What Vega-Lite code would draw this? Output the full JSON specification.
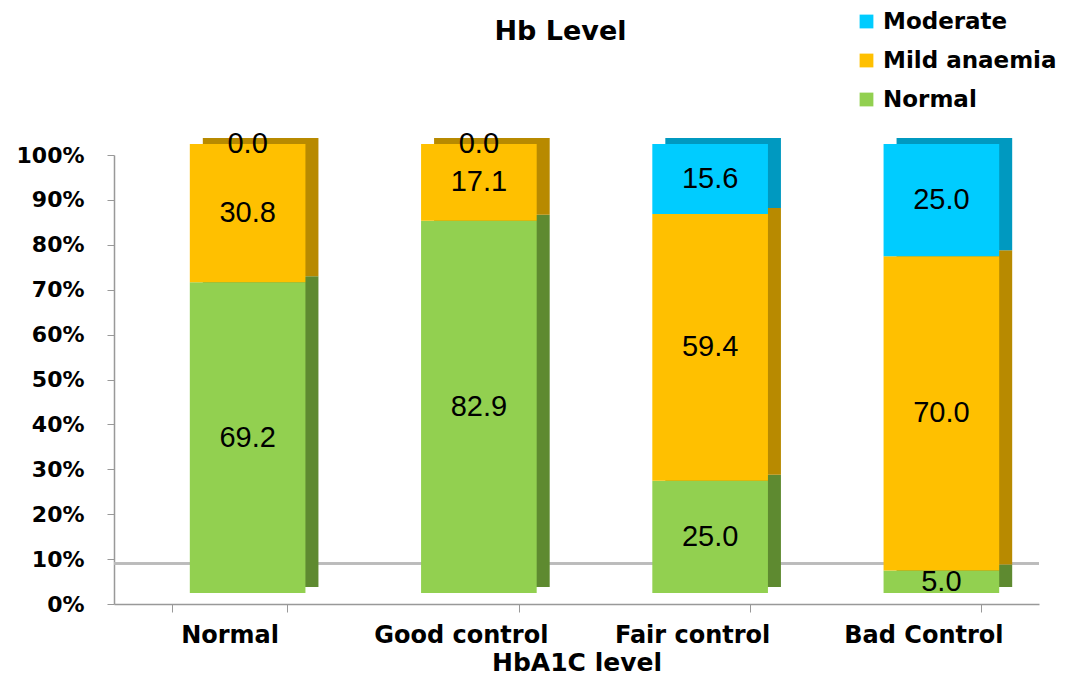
{
  "$schema": "https://vega.github.io/schema/vega-lite/v6.json",
  "width": 925,
  "height": 449,
  "autosize": {"type": "none"},
  "padding": {"left": 114, "top": 155, "right": 31, "bottom": 75},
  "background": "white",
  "config": {"view": {"stroke": null}, "font": "DejaVu Sans"},
  "title": {"text": "Hb Level", "fontSize": 27, "fontWeight": "bold", "font": "DejaVu Sans", "color": "#000000", "anchor": "middle", "frame": "group", "offset": -36, "dx": -16},
  "data": {"values": [
    {"group": "Normal", "hb": "Normal", "ord": 1, "value": 69.2},
    {"group": "Normal", "hb": "Mild anaemia", "ord": 2, "value": 30.8},
    {"group": "Normal", "hb": "Moderate", "ord": 3, "value": 0.0},
    {"group": "Good control", "hb": "Normal", "ord": 1, "value": 82.9},
    {"group": "Good control", "hb": "Mild anaemia", "ord": 2, "value": 17.1},
    {"group": "Good control", "hb": "Moderate", "ord": 3, "value": 0.0},
    {"group": "Fair control", "hb": "Normal", "ord": 1, "value": 25.0},
    {"group": "Fair control", "hb": "Mild anaemia", "ord": 2, "value": 59.4},
    {"group": "Fair control", "hb": "Moderate", "ord": 3, "value": 15.6},
    {"group": "Bad Control", "hb": "Normal", "ord": 1, "value": 5.0},
    {"group": "Bad Control", "hb": "Mild anaemia", "ord": 2, "value": 70.0},
    {"group": "Bad Control", "hb": "Moderate", "ord": 3, "value": 25.0}
  ]},
  "transform": [
    {"stack": "value", "groupby": ["group"], "sort": [{"field": "ord", "order": "ascending"}], "as": ["v0", "v1"]},
    {"calculate": "(datum.v0 + datum.v1) / 2", "as": "mid"}
  ],
  "encoding": {
    "x": {"field": "group", "type": "nominal", "sort": ["Normal", "Good control", "Fair control", "Bad Control"],
      "scale": {"paddingInner": 0.5, "paddingOuter": 0.25},
      "axis": {"title": "HbA1C level", "labelAngle": 0, "labelFontSize": 24, "labelFontWeight": "bold", "labelFont": "DejaVu Sans", "labelColor": "#000000", "labelPadding": 11,
        "titleFontSize": 25, "titleFontWeight": "bold", "titleFont": "DejaVu Sans", "titleColor": "#000000", "titlePadding": 3,
        "domainColor": "#999999", "tickColor": "#999999", "tickBand": "extent", "tickSize": 8, "domainWidth": 1.5}}
  },
  "layer": [
    {
      "mark": {"type": "rule", "color": "#bbbbbb", "strokeWidth": 1.5},
      "encoding": {"y": {"datum": 9, "type": "quantitative"}, "x": null}
    },
    {
      "mark": {"type": "bar", "xOffset": 31, "yOffset": -17, "y2Offset": -17},
      "encoding": {
        "y": {"field": "v0", "type": "quantitative", "scale": {"domain": [0, 100]},
          "axis": {"title": null, "values": [0,10,20,30,40,50,60,70,80,90,100], "labelExpr": "datum.value + '%'", "labelFontSize": 22, "labelFontWeight": "bold", "labelFont": "DejaVu Sans", "labelColor": "#000000", "labelPadding": 23, "grid": false, "domainColor": "#999999", "tickColor": "#999999", "tickSize": 7, "domainWidth": 1.5}},
        "y2": {"field": "v1"},
        "fill": {"field": "hb", "type": "nominal",
          "scale": {"domain": ["Moderate", "Mild anaemia", "Normal"], "range": ["#0099C0", "#B88A00", "#5E8A30"]},
          "legend": null}
      }
    },
    {
      "mark": {"type": "bar", "xOffset": 18, "yOffset": -11, "y2Offset": -11},
      "encoding": {
        "y": {"field": "v0", "type": "quantitative"},
        "y2": {"field": "v1"},
        "color": {"field": "hb", "type": "nominal",
          "scale": {"domain": ["Moderate", "Mild anaemia", "Normal"], "range": ["#00CCFF", "#FFC000", "#92D050"]},
          "legend": {"title": null, "orient": "none", "legendX": 741, "legendY": -145, "symbolType": "square", "symbolSize": 190, "symbolStrokeWidth": 0, "labelLimit": 400,
            "labelFontSize": 23, "labelFontWeight": "bold", "labelFont": "DejaVu Sans", "labelColor": "#000000", "rowPadding": 15, "labelOffset": 5}}
      }
    },
    {
      "mark": {"type": "text", "fontSize": 29, "font": "Liberation Sans", "color": "#000000", "baseline": "middle", "xOffset": 18, "yOffset": -11},
      "encoding": {
        "y": {"field": "mid", "type": "quantitative"},
        "text": {"field": "value", "type": "quantitative", "format": ".1f"}
      }
    }
  ],
  "resolve": {"scale": {"fill": "independent", "color": "independent"}}
}
